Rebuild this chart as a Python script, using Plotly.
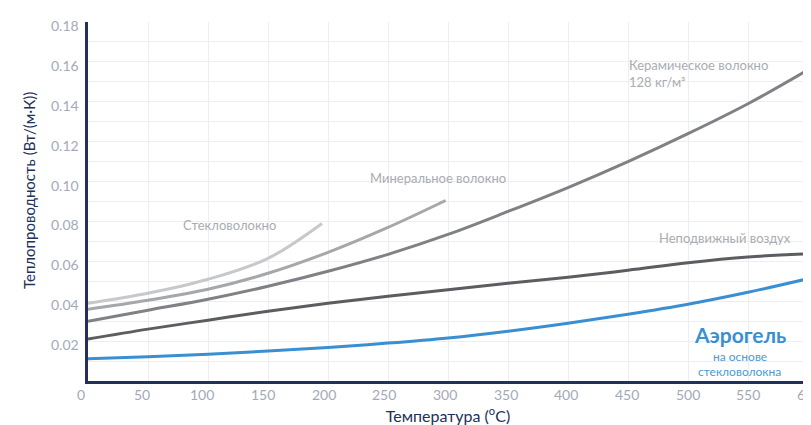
import plotly.graph_objects as go

# Data (temperature °C, thermal conductivity W/(m·K))
glass_t = [0, 50, 100, 150, 195]
glass_k = [0.039, 0.044, 0.051, 0.0615, 0.079]

mineral_t = [0, 50, 100, 150, 200, 250, 298]
mineral_k = [0.036, 0.0405, 0.046, 0.054, 0.0645, 0.077, 0.0905]

ceramic_t = [0, 50, 100, 150, 200, 250, 300, 350, 400, 450, 500, 550, 600]
ceramic_k = [0.030, 0.0355, 0.041, 0.0475, 0.055, 0.0635, 0.0735, 0.085, 0.097, 0.110, 0.124, 0.139, 0.156]

air_t = [0, 50, 100, 150, 200, 250, 300, 350, 400, 450, 500, 550, 600]
air_k = [0.021, 0.026, 0.0305, 0.035, 0.039, 0.0425, 0.0458, 0.049, 0.052, 0.0555, 0.0593, 0.0622, 0.0638]

aerogel_t = [0, 50, 100, 150, 200, 250, 300, 350, 400, 450, 500, 550, 600]
aerogel_k = [0.0112, 0.0122, 0.0134, 0.015, 0.0168, 0.019, 0.0216, 0.025, 0.029, 0.0335, 0.0385, 0.0445, 0.0513]

y_ticks = [0.02, 0.04, 0.06, 0.08, 0.10, 0.12, 0.14, 0.16, 0.18]
x_ticks = [0, 50, 100, 150, 200, 250, 300, 350, 400, 450, 500, 550, 600]

names = ["Стекловолокно", "Минеральное волокно", "Керамическое волокно<br>128 кг/м³",
         "Неподвижный воздух", "Аэрогель"]
aerogel_sub = ["на основе", "стекловолокна"]
x_title = "Температура (<sup>o</sup>C)"
y_title = "Теплопроводность (Вт/(м·К))"

FONT = "Lato, 'Open Sans', sans-serif"
NAVY = "#22305a"
TICK = "#a3a9b8"
LBL = "#a9acb0"
BLUE = "#3a8fd2"

fig = go.Figure()
series = [
    (glass_t, glass_k, "#c6c8cb"),
    (mineral_t, mineral_k, "#a5a7aa"),
    (ceramic_t, ceramic_k, "#7f8185"),
    (air_t, air_k, "#5b5d61"),
    (aerogel_t, aerogel_k, BLUE),
]
for (t, k, c), n in zip(series, names):
    fig.add_trace(go.Scatter(x=t, y=k, mode="lines", name=n,
                             line=dict(color=c, width=3, shape="spline", smoothing=1.0),
                             showlegend=False, hoverinfo="skip"))

ann = dict(showarrow=False, font=dict(family=FONT, size=13, color=LBL))
fig.add_annotation(x=117.5, y=0.0784, text=names[0], **ann)
fig.add_annotation(x=291.7, y=0.1018, text=names[1], **ann)
fig.add_annotation(x=449, y=0.1542, text=names[2], xanchor="left", align="left", **ann)
fig.add_annotation(x=531, y=0.0717, text=names[3], **ann)
fig.add_annotation(x=543, y=0.0233, text="<b>" + names[4] + "</b>", showarrow=False,
                   font=dict(family=FONT, size=21, color=BLUE))
fig.add_annotation(x=543, y=0.0125, text=aerogel_sub[0], showarrow=False,
                   font=dict(family=FONT, size=12, color="#4a9ad6"))
fig.add_annotation(x=543, y=0.0048, text=aerogel_sub[1], showarrow=False,
                   font=dict(family=FONT, size=12, color="#4a9ad6"))

# x tick labels (the reference's labels drift slightly from the gridlines)
for v in x_ticks:
    fig.add_annotation(x=v, xref="x", y=0, yref="paper", xanchor="center", yanchor="top",
                       yshift=-3, xshift=round(-7 + v * 0.0135), text=str(v), showarrow=False,
                       font=dict(family=FONT, size=14, color=TICK))
# y tick labels (sit a few px below their gridlines in the reference)
for v in y_ticks:
    fig.add_annotation(x=0, xref="paper", y=v, yref="y", xanchor="right", xshift=-7,
                       yshift=-3.5, text="%.2f" % v, showarrow=False,
                       font=dict(family=FONT, size=14, color=TICK))

# y axis title
fig.add_annotation(x=-0.081, xref="paper", y=0.531, yref="paper", textangle=-90,
                   xanchor="center", yanchor="middle",
                   text=y_title, showarrow=False,
                   font=dict(family=FONT, size=15, color=NAVY))

fig.update_layout(
    width=811, height=425,
    margin=dict(l=80, r=11, t=14, b=52, autoexpand=False),
    paper_bgcolor="white", plot_bgcolor="white",
    font=dict(family=FONT),
    xaxis=dict(range=[0, 600], tickvals=x_ticks, showticklabels=False,
               showgrid=True, gridcolor="#eceef2", gridwidth=1,
               showline=True, linecolor=NAVY, linewidth=3,
               ticks="", zeroline=False, automargin=False,
               title=dict(text=x_title, font=dict(size=16, color=NAVY, family=FONT),
                          standoff=28)),
    yaxis=dict(range=[0, 0.18], tickvals=y_ticks, showticklabels=False,
               showgrid=True, gridcolor="#eceef2", gridwidth=1,
               minor=dict(dtick=0.01, tick0=0, showgrid=True, gridcolor="#eceef2", gridwidth=1),
               showline=True, linecolor=NAVY, linewidth=3,
               ticks="", zeroline=False, automargin=False),
)

fig.write_html("out.html")
